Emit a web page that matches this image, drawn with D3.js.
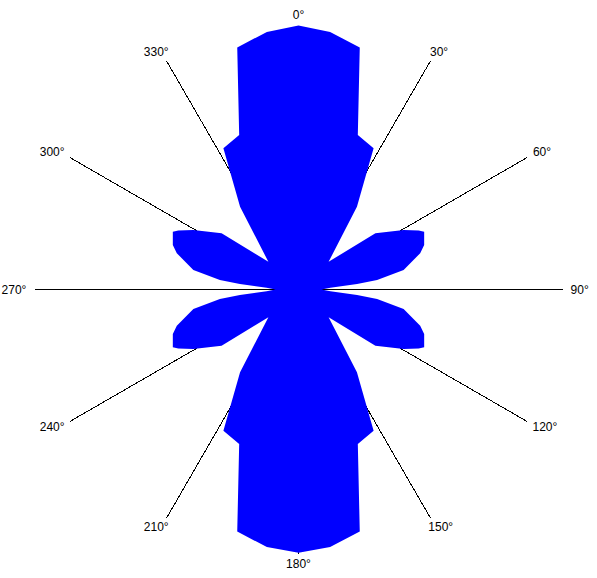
<!DOCTYPE html>
<html>
<head>
<meta charset="utf-8">
<script src="https://cdn.jsdelivr.net/npm/d3@7"></script>
<style>
  html, body { margin: 0; padding: 0; background: #ffffff; }
  svg { display: block; }
</style>
</head>
<body>
<svg id="chart" width="597" height="578"></svg>
<script>
// Angle grid (degrees) and labels
const gridAngles = [0, 30, 60, 90, 120, 150, 180, 210, 240, 270, 300, 330];
const gridLabels = ["0°", "30°", "60°", "90°", "120°", "150°", "180°", "210°", "240°", "270°", "300°", "330°"];

// Series: polygon vertices (angle in degrees clockwise from north, radius value)
const angles = [
  0, 7, 14.2, 21, 28, 35.2, 47.4, 53.8, 60.5, 63.9, 65.3, 70.5, 73.4, 79.5, 83.1, 84.6, 86.8, 90,
  93.2, 95.4, 96.9, 100.5, 106.6, 109.5, 114.7, 116.1, 119.5, 126.2, 132.6, 144.8, 152, 159, 165.8, 173,
  180, 187, 194.2, 201, 208, 215.2, 227.4, 233.8, 240.5, 243.9, 245.3, 250.5, 253.4, 259.5, 263.1, 264.6, 266.8,
  270, 273.2, 275.4, 276.9, 280.5, 286.6, 289.5, 294.7, 296.1, 299.5, 306.2, 312.6, 324.8, 332, 339, 345.8, 353
];
const values = [
  100, 98.3, 94.6, 62.7, 60.6, 38.4, 15.5, 36.1, 45.8, 50.7, 52.4, 50.5, 48.1, 40.5, 30.0, 22.3, 12.1, 8.7,
  12.1, 22.3, 30.0, 40.5, 48.1, 50.5, 52.4, 50.7, 45.8, 36.1, 15.5, 38.4, 60.6, 62.7, 94.6, 98.3,
  99.7, 98.3, 94.6, 62.7, 60.6, 38.4, 15.5, 36.1, 45.8, 50.7, 52.4, 50.5, 48.1, 40.5, 30.0, 22.3, 12.1,
  8.7, 12.1, 22.3, 30.0, 40.5, 48.1, 50.5, 52.4, 50.7, 45.8, 36.1, 15.5, 38.4, 60.6, 62.7, 94.6, 98.3
];
const radialMax = 100;

const cx = 298.5, cy = 289.5, R = 264;
const svg = d3.select("#chart");
const g = svg.append("g").attr("transform", `translate(${cx},${cy})`);

const rScale = d3.scaleLinear().domain([0, radialMax]).range([0, R]);
const aScale = d3.scaleLinear().domain([0, 360]).range([0, 2 * Math.PI]);

// Grid lines
g.selectAll("line.grid")
  .data(gridAngles)
  .join("line")
  .attr("class", "grid")
  .attr("x1", 0).attr("y1", 0)
  .attr("x2", d => rScale(radialMax) * Math.sin(aScale(d)))
  .attr("y2", d => -rScale(radialMax) * Math.cos(aScale(d)))
  .attr("stroke", "#000")
  .attr("stroke-width", 1)
  .attr("shape-rendering", "crispEdges");

// Series polygon
const pts = angles.map((a, i) => [aScale(a), rScale(values[i])]);
const radial = d3.lineRadial().angle(d => d[0]).radius(d => d[1]).curve(d3.curveLinearClosed);
g.append("path")
  .attr("d", radial(pts))
  .attr("fill", "#0000ff")
  .attr("stroke", "none");

// Labels
const labels = g.selectAll("text.lbl")
  .data(gridAngles)
  .join("text")
  .attr("class", "lbl")
  .attr("font-family", "Liberation Sans, Arial, sans-serif")
  .attr("font-size", 12)
  .attr("fill", "#000")
  .attr("text-anchor", "middle")
  .attr("dominant-baseline", "central")
  .text((d, i) => gridLabels[i]);

labels.each(function (d) {
  const bb = this.getBBox();
  const a = aScale(d);
  const s = Math.sin(a), c = Math.cos(a);
  const dist = R + 8;
  const x = dist * s + s * bb.width / 2;
  const y = -dist * c - c * 2.5;
  d3.select(this).attr("x", x).attr("y", y);
});
</script>
</body>
</html>
